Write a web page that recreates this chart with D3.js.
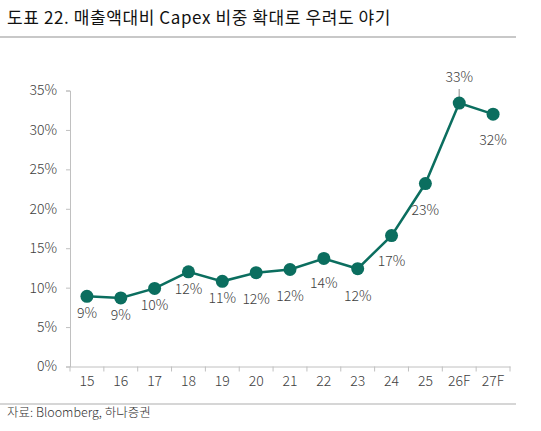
<!DOCTYPE html>
<html>
<head>
<meta charset="utf-8">
<script src="https://cdn.jsdelivr.net/npm/d3@7"></script>
<style>
  body { margin: 0; background: #fff; }
  svg text { font-family: "Noto Sans CJK KR", "Noto Sans", sans-serif; fill: #404040; font-weight: 300; }
</style>
</head>
<body>
<svg id="chart" width="541" height="431"></svg>
<script>
// Data
const years = ["15", "16", "17", "18", "19", "20", "21", "22", "23", "24", "25", "26F", "27F"];
const capexRatio = [8.9, 8.7, 9.9, 12.0, 10.8, 11.9, 12.3, 13.7, 12.4, 16.6, 23.2, 33.4, 32.0];
const valueLabels = ["9%", "9%", "10%", "12%", "11%", "12%", "12%", "14%", "12%", "17%", "23%", "33%", "32%"];
const yTicks = [0, 5, 10, 15, 20, 25, 30, 35];

// label placement (vertical offset from the point, px)
const labelDy = [17, 17, 17, 17, 17, 26, 27, 25, 27, 26, 27, -26, 26];

const svg = d3.select("#chart");
const color = "#0b6e5f";
const axisColor = "#c0c0c0";

// Title
svg.append("text")
  .attr("x", 7)
  .attr("y", 24)
  .attr("font-size", 17)
  .attr("letter-spacing", 0.6)
  .style("fill", "#111")
  .style("font-weight", 400)
  .text("도표 22. 매출액대비 Capex 비중 확대로 우려도 야기");

svg.append("line")
  .attr("x1", 0).attr("x2", 516)
  .attr("y1", 37).attr("y2", 37)
  .attr("stroke", "#c8c8c8")
  .attr("stroke-width", 2);

// Footer
svg.append("line")
  .attr("x1", 0).attr("x2", 516)
  .attr("y1", 404).attr("y2", 404)
  .attr("stroke", "#c8c8c8")
  .attr("stroke-width", 1.5);

svg.append("text")
  .attr("x", 7)
  .attr("y", 417)
  .attr("font-size", 12.5)
  .style("fill", "#333")
  .text("자료: Bloomberg, 하나증권");

// Chart area
const plotLeft = 70, plotRight = 510, plotTop = 90.5, plotBottom = 366.5;
const chart = svg.append("g");

const xScale = d3.scaleBand().domain(years).range([plotLeft, plotRight]);
const yScale = d3.scaleLinear().domain([0, 35]).range([plotBottom, plotTop]);

// Y axis
const yAxis = chart.append("g")
  .attr("transform", `translate(${plotLeft}, 0)`)
  .call(d3.axisLeft(yScale).tickValues(yTicks).tickSize(4).tickPadding(9).tickFormat(d => d + "%"));
yAxis.select(".domain").attr("stroke", axisColor);
yAxis.selectAll(".tick line").attr("stroke", axisColor);
yAxis.selectAll(".tick text").attr("font-size", 14).style("font-family", null);

// X axis: ticks sit between categories
const xAxis = chart.append("g")
  .attr("transform", `translate(0, ${plotBottom})`)
  .call(d3.axisBottom(xScale).tickSize(0).tickPadding(10));
xAxis.select(".domain").attr("stroke", axisColor);
xAxis.selectAll(".tick text").attr("font-size", 14).style("font-family", null);
xAxis.selectAll("line.sep")
  .data(d3.range(years.length + 1))
  .enter()
  .append("line")
  .attr("class", "sep")
  .attr("x1", i => plotLeft + i * xScale.step())
  .attr("x2", i => plotLeft + i * xScale.step())
  .attr("y1", 0)
  .attr("y2", 5)
  .attr("stroke", axisColor);

const cx = d => xScale(d) + xScale.bandwidth() / 2;
const points = years.map((y, i) => ({ year: y, value: capexRatio[i], label: valueLabels[i], dy: labelDy[i] }));

// Leader line for the label above the point
points.filter(d => d.dy < 0).forEach(d => {
  chart.append("line")
    .attr("x1", cx(d.year)).attr("x2", cx(d.year))
    .attr("y1", yScale(d.value) + d.dy + 12)
    .attr("y2", yScale(d.value))
    .attr("stroke", "#b0b0b0")
    .attr("stroke-width", 1.5);
});

// Line
chart.append("path")
  .datum(points)
  .attr("fill", "none")
  .attr("stroke", color)
  .attr("stroke-width", 2.5)
  .attr("d", d3.line().x(d => cx(d.year)).y(d => yScale(d.value)));

// Markers
chart.selectAll("circle")
  .data(points)
  .enter()
  .append("circle")
  .attr("cx", d => cx(d.year))
  .attr("cy", d => yScale(d.value))
  .attr("r", 6.5)
  .attr("fill", color);

// Value labels
chart.selectAll("text.annotation")
  .data(points)
  .enter()
  .append("text")
  .attr("class", "annotation")
  .attr("x", d => cx(d.year))
  .attr("y", d => yScale(d.value) + d.dy)
  .attr("dy", "0.35em")
  .attr("text-anchor", "middle")
  .attr("font-size", 14)
  .text(d => d.label);
</script>
</body>
</html>
